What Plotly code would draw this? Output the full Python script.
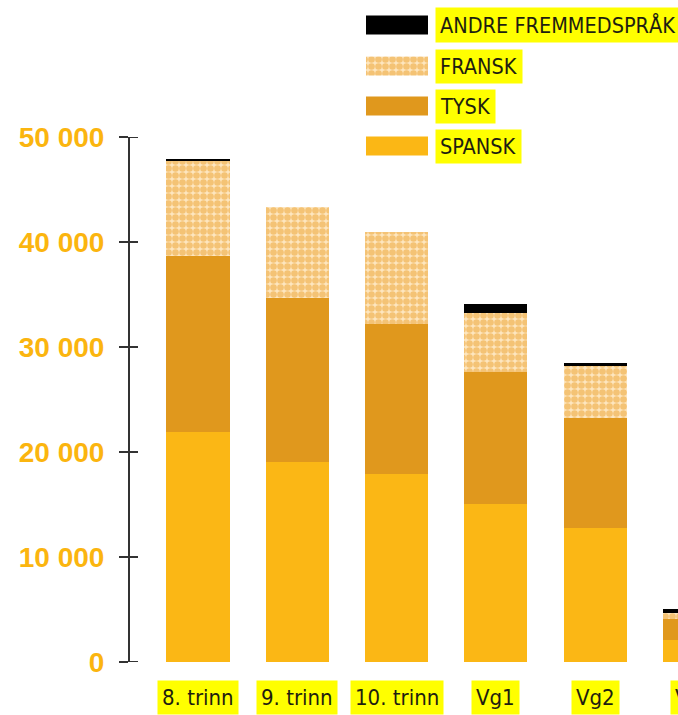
import plotly.graph_objects as go

# ---------------- data ----------------
categories = ["8. trinn", "9. trinn", "10. trinn", "Vg1", "Vg2", "Vg3"]
spansk = [21900, 19050, 17900, 15050, 12800, 2100]
tysk = [16800, 15600, 14300, 12550, 10400, 2000]
fransk = [9000, 8700, 8750, 5650, 5000, 600]
andre = [200, 0, 0, 800, 300, 350]
series_names = ["SPANSK", "TYSK", "FRANSK", "ANDRE FREMMEDSPRÅK"]
y_ticks = [0, 10000, 20000, 30000, 40000, 50000]

# ---------------- styling ----------------
W, H = 678, 715
L, B = 130, 53
PW, PH = W - L, H - B
Y_TOP_PX = 137
x_range = [-0.685, 4.836]
y_range = [0, 50000]

C_SPANSK = "#fbb715"
C_TYSK = "#e0981d"
C_FRANSK_BG = "#fde6bf"
C_FRANSK_FG = "#eb9f2c"
C_ANDRE = "#000000"
C_TICK = "#fbb50f"
C_AXIS = "#333333"
HILITE = "#ffff00"
NARROW = "Liberation Sans Narrow, DejaVu Sans Condensed, Roboto Condensed, sans-serif"

pattern = dict(shape=".", fgcolor=C_FRANSK_FG, bgcolor=C_FRANSK_BG, size=7, solidity=0.7)

fig = go.Figure()
fig.add_trace(go.Bar(x=categories, y=spansk, name=series_names[0],
                     marker=dict(color=C_SPANSK, line=dict(width=0))))
fig.add_trace(go.Bar(x=categories, y=tysk, name=series_names[1],
                     marker=dict(color=C_TYSK, line=dict(width=0))))
fig.add_trace(go.Bar(x=categories, y=fransk, name=series_names[2],
                     marker=dict(color=C_FRANSK_BG, pattern=pattern, line=dict(width=0))))
fig.add_trace(go.Bar(x=categories, y=andre, name=series_names[3],
                     marker=dict(color=C_ANDRE, line=dict(width=0))))

# ---------------- custom legend (pixel-like helper axes) ----------------
legend_rows = [  # (name, color, center y px, patterned)
    (series_names[3], C_ANDRE, 25, False),
    (series_names[2], C_FRANSK_BG, 66, True),
    (series_names[1], C_TYSK, 106, False),
    (series_names[0], C_SPANSK, 146, False),
]
SW_X0, SW_X1, SW_H = 366, 428, 19
for name, col, cy, pat in legend_rows:
    xs = [SW_X0, SW_X1, SW_X1, SW_X0, SW_X0]
    ys = [cy - SW_H / 2, cy - SW_H / 2, cy + SW_H / 2, cy + SW_H / 2, cy - SW_H / 2]
    kw = dict(fillpattern=pattern) if pat else {}
    fig.add_trace(go.Scatter(x=xs, y=ys, xaxis="x2", yaxis="y2", mode="lines",
                             fill="toself", fillcolor=col, line=dict(width=0),
                             hoverinfo="skip", showlegend=False, **kw))
    fig.add_annotation(x=435, y=cy, xref="x2", yref="y2", text=name,
                       showarrow=False, xanchor="left", yanchor="middle",
                       font=dict(family=NARROW, size=21.5, color="#1e1e10"),
                       bgcolor=HILITE, borderpad=4)

# ---------------- x labels with highlight ----------------
for i, cat in enumerate(categories):
    xp = (i - x_range[0]) / (x_range[1] - x_range[0])
    fig.add_annotation(x=xp, y=-(697 - PH) / PH, xref="paper", yref="paper",
                       text=cat, showarrow=False, xanchor="center", yanchor="middle",
                       font=dict(family=NARROW, size=22, color="#1e1e10"),
                       bgcolor=HILITE, borderpad=4)

# tick stubs to the right of the axis line (ticks cross the axis)
stub_x, stub_y = [], []
for t in y_ticks:
    stub_x += [L - 1, L + 8, None]
    stub_y += [t, t, None]
fig.add_trace(go.Scatter(x=stub_x, y=stub_y, xaxis="x2", yaxis="y4", mode="lines",
                         line=dict(color=C_AXIS, width=2), cliponaxis=False,
                         hoverinfo="skip", showlegend=False))

ydom = [0, (PH - Y_TOP_PX) / PH]
fig.update_layout(
    width=W, height=H,
    margin=dict(l=L, r=0, t=0, b=B, pad=0, autoexpand=False),
    paper_bgcolor="white", plot_bgcolor="rgba(0,0,0,0)",
    barmode="stack", bargap=0.365, showlegend=False,
    separators=", ",
    xaxis=dict(type="category", range=x_range, showticklabels=False, ticks="",
               showgrid=False, zeroline=False, showline=False, fixedrange=True),
    yaxis=dict(domain=ydom, range=y_range, tickvals=y_ticks, tickformat=",d",
               ticks="outside", ticklen=9, tickwidth=2, tickcolor=C_AXIS,
               showline=True, linecolor=C_AXIS, linewidth=2,
               showgrid=False, zeroline=False, ticklabelstandoff=9,
               tickfont=dict(family="Liberation Sans, Arial, sans-serif", size=28,
                             color=C_TICK, weight="bold")),
    xaxis2=dict(domain=[0, 1], range=[L, W], anchor="y2", visible=False, fixedrange=True),
    yaxis2=dict(domain=[0, 1], range=[PH, 0], anchor="x2", visible=False, fixedrange=True),
    yaxis4=dict(domain=ydom, range=y_range, anchor="x2", visible=False, fixedrange=True),
)

fig.write_html("out.html")
